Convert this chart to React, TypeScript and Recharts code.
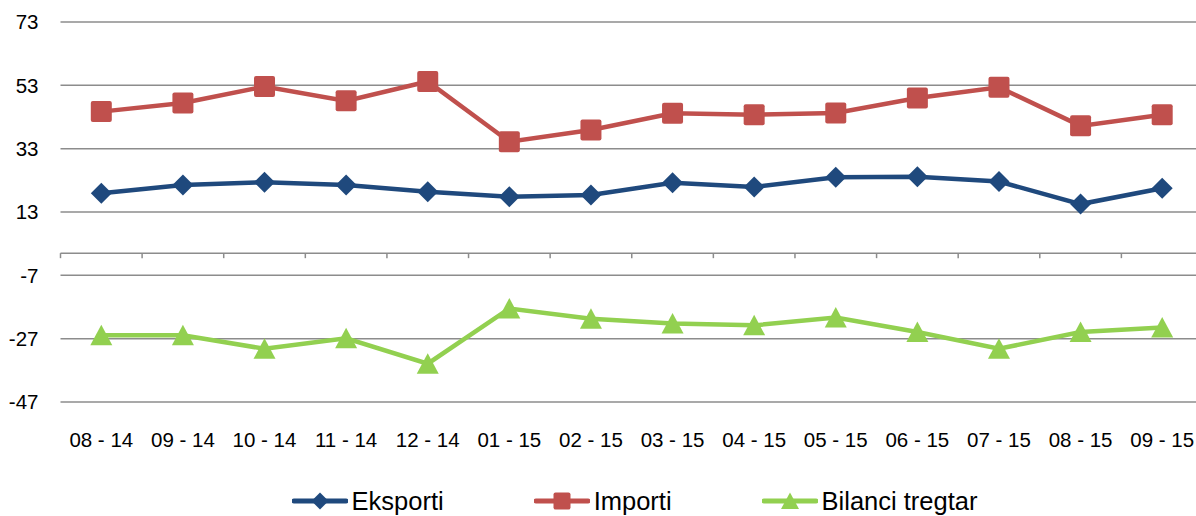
import React from 'react';
import {
  LineChart,
  Line,
  CartesianGrid,
  XAxis,
  YAxis,
  Legend,
  ReferenceLine,
} from 'recharts';

const months = [
  '08 - 14', '09 - 14', '10 - 14', '11 - 14', '12 - 14', '01 - 15', '02 - 15',
  '03 - 15', '04 - 15', '05 - 15', '06 - 15', '07 - 15', '08 - 15', '09 - 15',
];
const eksporti = [18.9, 21.5, 22.4, 21.5, 19.4, 17.8, 18.4, 22.2, 20.9, 24.0, 24.1, 22.6, 15.5, 20.5];
const importi = [44.7, 47.4, 52.6, 48.1, 54.2, 35.2, 38.9, 44.2, 43.7, 44.3, 49.0, 52.4, 40.2, 43.7];
const bilanci = [-25.9, -25.9, -30.2, -26.9, -34.9, -17.5, -20.7, -22.2, -22.8, -20.3, -24.9, -30.2, -24.9, -23.5];
const yTicks = [-47, -27, -7, 13, 33, 53, 73];

const data = months.map((m, i) => ({
  month: m,
  eksporti: eksporti[i],
  importi: importi[i],
  bilanci: bilanci[i],
}));

const BLUE = '#1F497D';
const RED = '#C0504D';
const GREEN = '#92D050';
const GRID = '#8C8C8C';
const FONT = '"Liberation Sans", Arial, sans-serif';

const Diamond = (p: any) => {
  const { cx, cy, fill, r } = p;
  if (cx == null || cy == null) return null;
  return (
    <polygon
      key={`d-${p.index}`}
      points={`${cx},${cy - r} ${cx + r},${cy} ${cx},${cy + r} ${cx - r},${cy}`}
      fill={fill}
    />
  );
};

const Square = (p: any) => {
  const { cx, cy, fill, r } = p;
  if (cx == null || cy == null) return null;
  return <rect key={`s-${p.index}`} x={cx - r} y={cy - r} width={r * 2} height={r * 2} rx={2} fill={fill} />;
};

const Triangle = (p: any) => {
  const { cx, cy, fill, r } = p;
  if (cx == null || cy == null) return null;
  return (
    <polygon
      key={`t-${p.index}`}
      points={`${cx},${cy - r} ${cx + r + 0.5},${cy + r - 0.5} ${cx - r - 0.5},${cy + r - 0.5}`}
      fill={fill}
    />
  );
};

// zero line with small tick marks at the category boundaries
const ZeroAxis = (p: any) => {
  const { x1, y1, x2 } = p;
  const n = months.length;
  const step = (x2 - x1) / n;
  const marks = [];
  for (let i = 0; i <= n; i++) {
    const x = x1 + step * i;
    marks.push(<line key={i} x1={x} y1={y1} x2={x} y2={y1 + 5} stroke={GRID} strokeWidth={1.5} />);
  }
  return (
    <g>
      <line x1={x1} y1={y1} x2={x2} y2={y1} stroke={GRID} strokeWidth={1.5} />
      {marks}
    </g>
  );
};

const legendItems = [
  { name: 'Eksporti', color: BLUE, Mark: Diamond },
  { name: 'Importi', color: RED, Mark: Square },
  { name: 'Bilanci tregtar', color: GREEN, Mark: Triangle },
];

const renderLegend = () => (
  <div
    style={{
      display: 'flex',
      justifyContent: 'center',
      gap: 90,
      paddingTop: 36,
      paddingLeft: 66,
      fontFamily: FONT,
      fontSize: 25.5,
      color: '#000',
    }}
  >
    {legendItems.map(({ name, color, Mark }) => (
      <div key={name} style={{ display: 'flex', alignItems: 'center', height: 26 }}>
        <svg width={56} height={24} style={{ marginRight: 4 }}>
          <line x1={2} y1={12} x2={54} y2={12} stroke={color} strokeWidth={5} strokeLinecap="round" />
          <Mark cx={28} cy={12} fill={color} r={8.5} />
        </svg>
        <span>{name}</span>
      </div>
    ))}
  </div>
);

const App: React.FC = () => {
  return (
    <div style={{ position: 'absolute', left: 0, top: 0, width: 1196, height: 516, overflow: 'hidden', background: '#fff' }}>
      <LineChart width={1203} height={516} data={data} margin={{ top: 22, right: 0, bottom: 0, left: 0 }}>
        <CartesianGrid vertical={false} stroke={GRID} strokeWidth={1.5} />
        <XAxis
          dataKey="month"
          scale="band"
          axisLine={false}
          tickLine={false}
          tickSize={0}
          tickMargin={30}
          height={50}
          interval={0}
          tick={{ fill: '#000', fontSize: 20.5, fontFamily: FONT }}
        />
        <YAxis
          domain={[-47, 73]}
          ticks={yTicks}
          axisLine={false}
          tickLine={false}
          tickSize={0}
          tickMargin={22}
          width={60.5}
          interval={0}
          tick={{ fill: '#000', fontSize: 20.5, fontFamily: FONT }}
        />
        <ReferenceLine y={0} shape={ZeroAxis} />
        <Legend verticalAlign="bottom" height={64} content={renderLegend} />
        <Line
          dataKey="eksporti"
          name="Eksporti"
          stroke={BLUE}
          strokeWidth={4.5}
          dot={(p: any) => <Diamond {...p} r={10.5} fill={BLUE} />}
          activeDot={false}
          isAnimationActive={false}
        />
        <Line
          dataKey="importi"
          name="Importi"
          stroke={RED}
          strokeWidth={4.5}
          dot={(p: any) => <Square {...p} r={10.5} fill={RED} />}
          activeDot={false}
          isAnimationActive={false}
        />
        <Line
          dataKey="bilanci"
          name="Bilanci tregtar"
          stroke={GREEN}
          strokeWidth={4.5}
          dot={(p: any) => <Triangle {...p} r={10.5} fill={GREEN} />}
          activeDot={false}
          isAnimationActive={false}
        />
      </LineChart>
    </div>
  );
};

export default App;
